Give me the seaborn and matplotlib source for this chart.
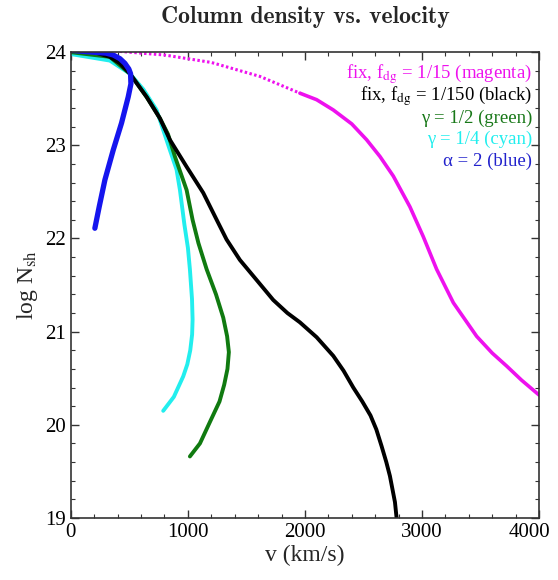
import numpy as np
import matplotlib
matplotlib.use("Agg")
import matplotlib.pyplot as plt
import matplotlib.transforms as mtransforms
import seaborn as sns

# values (v in km/s, log N_sh)
magenta_v = [0, 400, 800, 1200, 1615, 1957, 2100, 2242, 2400, 2527, 2641, 2755, 2897, 3011, 3125,
             3268, 3467, 3600, 3724, 3850, 4000]
magenta_n = [24.03, 24.01, 23.97, 23.89, 23.74, 23.56, 23.49, 23.38, 23.23, 23.06, 22.88, 22.67,
             22.34, 22.02, 21.67, 21.31, 20.95, 20.77, 20.63, 20.48, 20.32]

black_v = [0, 200, 333, 420, 504, 647, 761, 846, 989, 1131, 1250, 1330, 1444, 1590, 1729, 1850, 1957,
           2100, 2242, 2330, 2413, 2490, 2560, 2610, 2655, 2695, 2726, 2769, 2783]
black_n = [24.02, 24.0, 23.95, 23.88, 23.77, 23.52, 23.29, 23.06, 22.77, 22.49, 22.19, 21.99, 21.77,
           21.55, 21.34, 21.20, 21.10, 20.94, 20.74, 20.58, 20.40, 20.25, 20.10, 19.95, 19.77, 19.60,
           19.45, 19.17, 19.0]

green_v = [0, 333, 504, 647, 761, 830, 889, 989, 1040, 1090, 1160, 1240, 1302, 1335, 1350, 1338, 1310,
           1270, 1188, 1103, 1017]
green_n = [24.0, 23.95, 23.77, 23.52, 23.29, 23.12, 22.88, 22.52, 22.2, 21.95, 21.67, 21.40, 21.15,
           20.95, 20.78, 20.60, 20.43, 20.25, 20.03, 19.80, 19.66]

cyan_v = [0, 333, 504, 620, 732, 846, 903, 932, 970, 1000, 1017, 1035, 1040, 1036, 1020, 995, 960,
          880, 789]
cyan_n = [23.98, 23.91, 23.77, 23.60, 23.38, 22.95, 22.74, 22.52, 22.15, 21.90, 21.67, 21.35, 21.13,
          20.97, 20.80, 20.65, 20.52, 20.30, 20.15]

blue_v = [0, 191, 300, 362, 420, 462, 495, 510, 513, 490, 433, 362, 291, 242, 205]
blue_n = [24.02, 24.0, 23.99, 23.97, 23.93, 23.88, 23.82, 23.77, 23.66, 23.52, 23.24, 22.95, 22.63,
          22.34, 22.11]

legend_labels = [r"fix, f$_{\rm dg}$ = 1/15 (magenta)", r"fix, f$_{\rm dg}$ = 1/150 (black)",
                 "γ = 1/2 (green)", "γ = 1/4 (cyan)", "α = 2 (blue)"]
legend_colors = ["#ee11ee", "black", "#187818", "#22eeee", "#2222cc"]

x_ticks = [0, 1000, 2000, 3000, 4000]
y_ticks = [19, 20, 21, 22, 23, 24]

sns.set_theme(style="ticks")
plt.rcParams["font.family"] = ["Liberation Serif", "DejaVu Serif"]
plt.rcParams["mathtext.fontset"] = "stix"

fig = plt.figure(figsize=(5.58, 5.80), dpi=100)
ax = fig.add_axes([0.127, 0.107, 0.839, 0.803])

# magenta: dotted while flat, solid once it drops
split = 5
sns.lineplot(x=magenta_v[:split + 1], y=magenta_n[:split + 1], sort=False, estimator=None, ax=ax,
             color="#ee11ee", lw=2.2, linestyle=(0, (0.8, 0.8)))
sns.lineplot(x=magenta_v[split:], y=magenta_n[split:], sort=False, estimator=None, ax=ax,
             color="#ee11ee", lw=2.6)
sns.lineplot(x=cyan_v, y=cyan_n, sort=False, estimator=None, ax=ax, color="#22eeee", lw=2.8)
sns.lineplot(x=green_v, y=green_n, sort=False, estimator=None, ax=ax, color="#107a10", lw=2.8)
sns.lineplot(x=black_v, y=black_n, sort=False, estimator=None, ax=ax, color="black", lw=2.8)
sns.lineplot(x=blue_v, y=blue_n, sort=False, estimator=None, ax=ax, color="#1515ee", lw=3.8)

ax.set_xlim(0, 4000)
ax.set_ylim(19, 24)
ax.set_xticks(x_ticks)
ax.set_yticks(y_ticks)
ax.set_xticks(np.arange(0, 4001, 200), minor=True)
ax.set_yticks(np.arange(19, 24.01, 0.2), minor=True)
ax.tick_params(which="both", direction="in", top=True, right=True, labelsize=15, colors="#333333",
               labelcolor="black")
ax.tick_params(which="major", length=6, width=1)
ax.tick_params(which="minor", length=3, width=0.8)
for s in ax.spines.values():
    s.set_color("#333333")
    s.set_linewidth(1.2)

# last x label sits a bit inside the frame
lbl = ax.get_xticklabels()[-1]
lbl.set_transform(lbl.get_transform() + mtransforms.ScaledTranslation(-0.1, 0, fig.dpi_scale_trans))

ax.set_xlabel("v (km/s)", fontsize=17, labelpad=2)
ax.set_ylabel(r"log N$_{\rm sh}$", fontsize=17, labelpad=4)
ax.set_title("Column density vs. velocity", fontsize=17, fontfamily="cmb10", pad=21)

for i, (t, c) in enumerate(zip(legend_labels, legend_colors)):
    ax.text(0.985, 0.953 - i * 0.047, t, transform=ax.transAxes, ha="right", va="center",
            fontsize=13.5, color=c)

fig.savefig("out.png", dpi=100)
